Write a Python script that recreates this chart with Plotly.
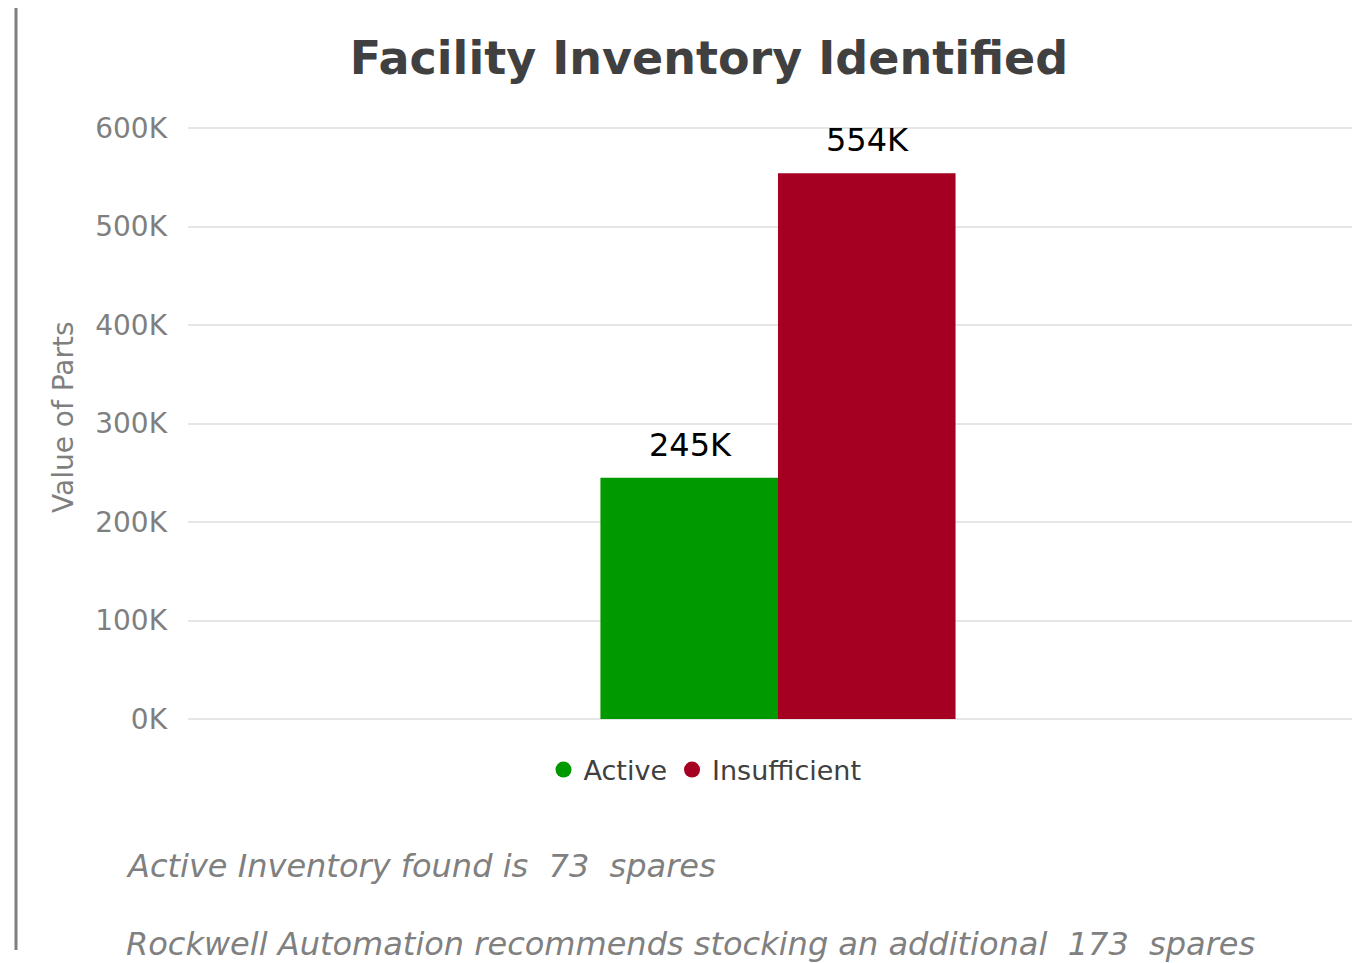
import plotly.graph_objects as go

categories = ["Active", "Insufficient"]
values = [245000, 554000]
colors = ["#009900", "#a50021"]
tick_vals = [0, 100000, 200000, 300000, 400000, 500000, 600000]
tick_text = ["0K", "100K", "200K", "300K", "400K", "500K", "600K"]
title_text = "Facility Inventory Identified"
y_title = "Value of Parts"
note_lines = [
    "Active Inventory found is&nbsp;&nbsp;73&nbsp;&nbsp;spares",
    "Rockwell Automation recommends stocking an additional&nbsp;&nbsp;173&nbsp;&nbsp;spares",
]

FONT = "DejaVu Sans"
OFF = 8  # default body margin of the html page
PAGE_W, PAGE_H = 1360, 963
W, H = PAGE_W - OFF, PAGE_H - OFF
PAD = 3  # extra pixels above/below so edge gridlines are drawn
SCALE = (719 - 128) / 600000.0  # pixels per unit
EXT = PAD / SCALE
# plot area in page pixels: x 188..1360, y 128..719 (+PAD each side)
L = 188 - OFF
T = 128 - OFF - PAD
R = 0
B = H - (719 - OFF) - PAD
pw = W - L - R
ph = H - T - B
BARGAP = 0.697


def px_x(x):
    return (x - OFF - L) / pw


def px_y(y):
    return (H - B - (y - OFF)) / ph


fig = go.Figure()
n = len(categories)
for i, (name, v, c) in enumerate(zip(categories, values, colors)):
    fig.add_trace(go.Bar(
        x=["Facility"], y=[v], name=name, marker=dict(color=c, line=dict(width=0)),
        showlegend=False,
    ))
    fig.add_trace(go.Scatter(
        x=[None], y=[None], mode="markers", name=name,
        marker=dict(symbol="circle", size=19, color=c),
    ))
    # data label above each bar of the group
    bar_w = pw * (1 - BARGAP) / n
    xshift = (i - (n - 1) / 2) * bar_w + 1
    fig.add_annotation(x="Facility", y=v, xref="x", yref="y", text=f"{v/1000:.0f}K",
                       showarrow=False, xshift=xshift, yshift=12, yanchor="bottom",
                       font=dict(family=FONT, size=32, color="#000000"))

fig.update_layout(
    width=W, height=H,
    margin=dict(l=L, r=R, t=T, b=B, pad=0),
    paper_bgcolor="white", plot_bgcolor="rgba(0,0,0,0)",
    barmode="group", bargap=BARGAP, bargroupgap=0,
    title=dict(text=f"<b>{title_text}</b>", x=(709 - OFF) / W, xanchor="center",
               y=1 - (58 - OFF) / H, yanchor="middle", yref="container",
               font=dict(family=FONT, size=46, color="#404040")),
    legend=dict(orientation="h", x=px_x(705), xanchor="center", y=px_y(770),
                yanchor="middle", font=dict(family=FONT, size=27, color="#404040"),
                itemsizing="trace", bgcolor="rgba(0,0,0,0)", itemwidth=30),
    showlegend=True,
    font=dict(family=FONT),
)
fig.update_xaxes(range=[-0.5034, 0.4966], showticklabels=False, showgrid=False,
                 zeroline=False, showline=False, fixedrange=True)
fig.update_yaxes(range=[-EXT, 600000 + EXT], tickvals=tick_vals, ticktext=tick_text,
                 tickfont=dict(family=FONT, size=28, color="#7f7f7f"),
                 showgrid=True, gridcolor="#e6e6e6", gridwidth=2,
                 zeroline=False, showline=False, ticklabelstandoff=20)

fig.add_annotation(text=y_title, textangle=-90, xref="paper", yref="paper",
                   x=px_x(63), y=px_y(417), xanchor="center", yanchor="middle",
                   showarrow=False, font=dict(family=FONT, size=28, color="#7f7f7f"))
for line, yc in zip(note_lines, [866, 944]):
    fig.add_annotation(text=f"<i>{line}</i>", xref="paper", yref="paper",
                       x=px_x(124), y=px_y(yc), xanchor="left", yanchor="middle",
                       showarrow=False, font=dict(family=FONT, size=32, color="#808080"))

fig.add_shape(type="line", xref="paper", yref="paper",
              x0=px_x(16), x1=px_x(16), y0=px_y(OFF), y1=px_y(950),
              line=dict(color="#7f7f7f", width=3))

fig.write_html("out.html")
